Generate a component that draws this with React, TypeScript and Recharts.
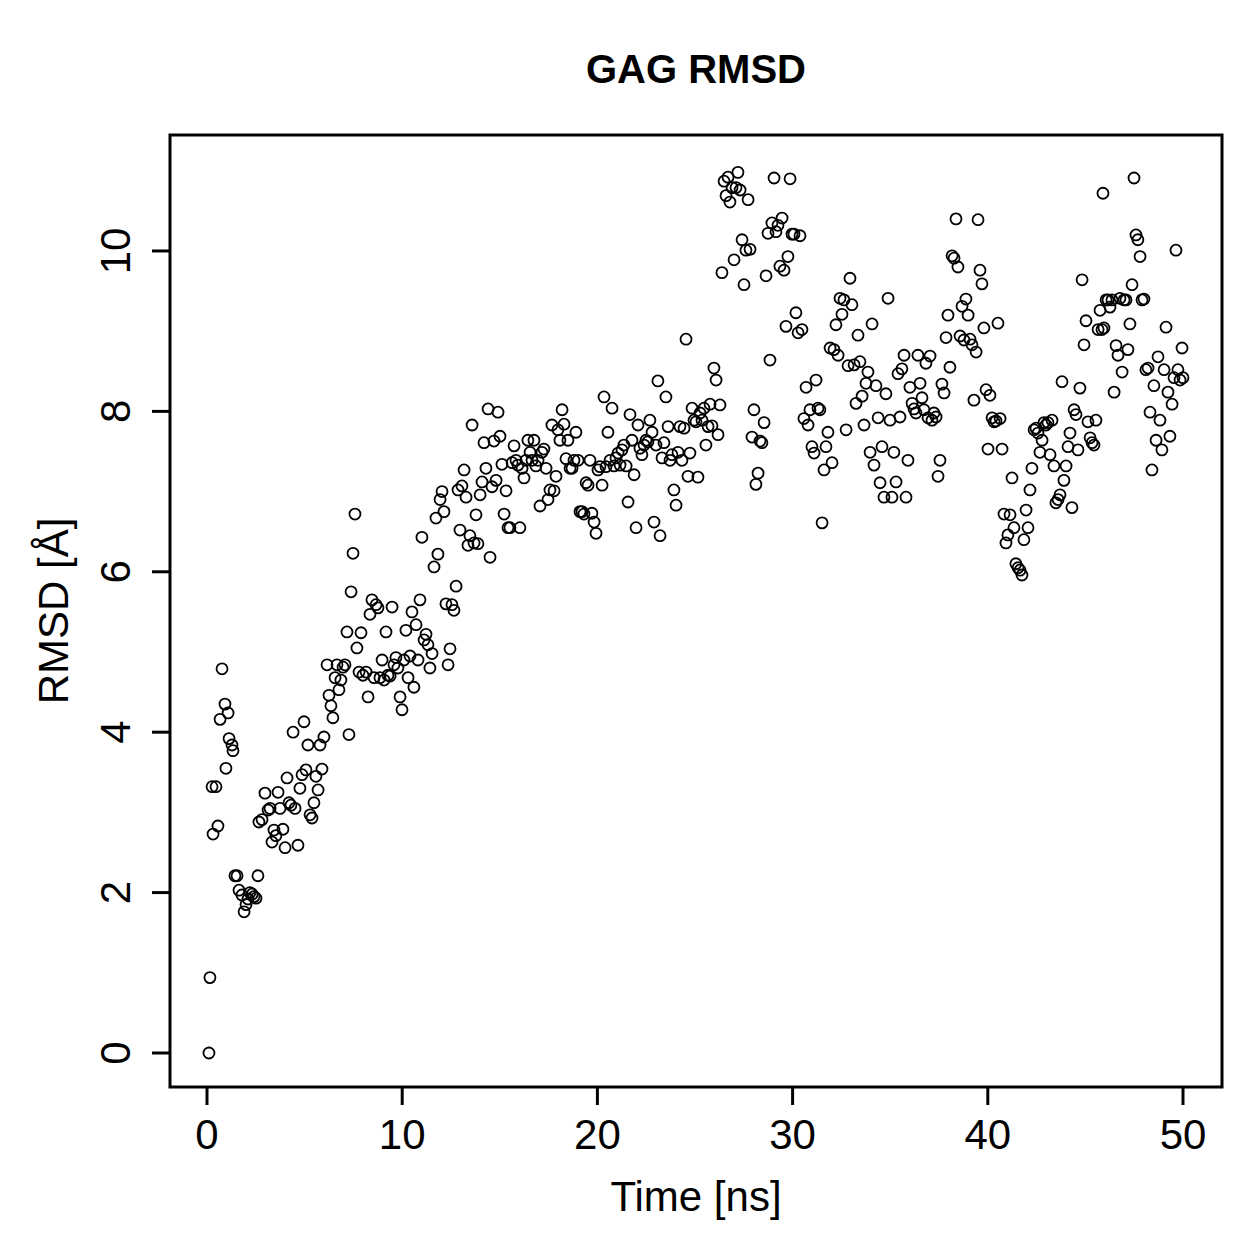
import { ScatterChart, Scatter, XAxis, YAxis, ReferenceArea } from "recharts";

// simulation time (ns) and RMSD (Å) of each frame
const time = [
  0.1, 0.15, 0.26, 0.31, 0.46, 0.56, 0.67, 0.77, 0.92, 0.97,
  1.08, 1.13, 1.28, 1.33, 1.43, 1.54, 1.64, 1.79, 1.9, 2.0,
  2.1, 2.2, 2.31, 2.41, 2.51, 2.61, 2.66, 2.82, 2.97, 3.13,
  3.23, 3.33, 3.43, 3.53, 3.64, 3.74, 3.89, 4.0, 4.1, 4.2,
  4.3, 4.41, 4.51, 4.66, 4.76, 4.87, 4.97, 5.07, 5.17, 5.28,
  5.38, 5.48, 5.58, 5.69, 5.79, 5.89, 5.99, 6.15, 6.25, 6.35,
  6.45, 6.56, 6.66, 6.76, 6.86, 6.97, 7.07, 7.17, 7.27, 7.38,
  7.48, 7.58, 7.68, 7.79, 7.89, 7.99, 8.15, 8.25, 8.35, 8.45,
  8.56, 8.66, 8.76, 8.86, 8.97, 9.07, 9.17, 9.27, 9.38, 9.48,
  9.58, 9.68, 9.78, 9.89, 9.99, 10.09, 10.19, 10.3, 10.4, 10.5,
  10.6, 10.71, 10.81, 10.91, 11.01, 11.12, 11.22, 11.32, 11.42, 11.53,
  11.63, 11.73, 11.83, 11.94, 12.04, 12.14, 12.24, 12.35, 12.45, 12.55,
  12.65, 12.76, 12.86, 12.96, 13.06, 13.17, 13.27, 13.37, 13.47, 13.58,
  13.68, 13.78, 13.88, 13.99, 14.09, 14.19, 14.29, 14.4, 14.5, 14.6,
  14.7, 14.81, 14.91, 15.01, 15.11, 15.22, 15.32, 15.42, 15.52, 15.63,
  15.73, 15.83, 15.93, 16.03, 16.14, 16.24, 16.34, 16.44, 16.55, 16.65,
  16.75, 16.85, 16.96, 17.06, 17.16, 17.26, 17.37, 17.47, 17.57, 17.67,
  17.78, 17.88, 17.98, 18.08, 18.19, 18.29, 18.39, 18.49, 18.6, 18.7,
  18.8, 18.9, 19.01, 19.11, 19.21, 19.31, 19.42, 19.52, 19.62, 19.72,
  19.83, 19.93, 20.03, 20.13, 20.24, 20.34, 20.44, 20.54, 20.65, 20.75,
  20.85, 20.95, 21.06, 21.16, 21.26, 21.36, 21.47, 21.57, 21.67, 21.77,
  21.88, 21.98, 22.08, 22.18, 22.28, 22.39, 22.49, 22.59, 22.69, 22.8,
  22.9, 23.0, 23.1, 23.21, 23.31, 23.41, 23.51, 23.62, 23.72, 23.82,
  23.92, 24.03, 24.13, 24.23, 24.33, 24.44, 24.54, 24.64, 24.74, 24.85,
  24.95, 25.05, 25.15, 25.26, 25.36, 25.46, 25.56, 25.67, 25.77, 25.87,
  25.97, 26.08, 26.18, 26.28, 26.38, 26.49, 26.59, 26.69, 26.79, 26.9,
  27.0, 27.1, 27.2, 27.31, 27.41, 27.51, 27.61, 27.72, 27.82, 27.92,
  28.02, 28.12, 28.23, 28.33, 28.43, 28.54, 28.64, 28.74, 28.84, 28.94,
  29.05, 29.15, 29.25, 29.35, 29.46, 29.56, 29.66, 29.76, 29.87, 29.97,
  30.07, 30.17, 30.28, 30.38, 30.48, 30.58, 30.69, 30.79, 30.89, 30.99,
  31.1, 31.2, 31.3, 31.4, 31.51, 31.61, 31.71, 31.81, 31.92, 32.02,
  32.12, 32.22, 32.33, 32.43, 32.53, 32.63, 32.74, 32.84, 32.94, 33.04,
  33.15, 33.25, 33.35, 33.45, 33.56, 33.66, 33.76, 33.86, 33.97, 34.07,
  34.17, 34.27, 34.38, 34.48, 34.58, 34.68, 34.78, 34.89, 34.99, 35.09,
  35.19, 35.3, 35.4, 35.5, 35.6, 35.71, 35.81, 35.91, 36.01, 36.12,
  36.22, 36.32, 36.42, 36.53, 36.63, 36.73, 36.83, 36.94, 37.04, 37.14,
  37.24, 37.35, 37.45, 37.55, 37.65, 37.76, 37.86, 37.96, 38.06, 38.17,
  38.27, 38.37, 38.47, 38.58, 38.68, 38.78, 38.88, 38.99, 39.09, 39.19,
  39.29, 39.4, 39.5, 39.6, 39.7, 39.8, 39.91, 40.01, 40.11, 40.22,
  40.32, 40.42, 40.52, 40.63, 40.73, 40.83, 40.93, 41.03, 41.14, 41.24,
  41.34, 41.44, 41.55, 41.65, 41.75, 41.85, 41.96, 42.06, 42.16, 42.26,
  42.37, 42.47, 42.57, 42.67, 42.78, 42.88, 42.98, 43.08, 43.19, 43.29,
  43.39, 43.49, 43.6, 43.7, 43.8, 43.9, 44.01, 44.11, 44.21, 44.31,
  44.42, 44.52, 44.62, 44.72, 44.83, 44.93, 45.03, 45.13, 45.24, 45.34,
  45.44, 45.54, 45.65, 45.75, 45.85, 45.95, 46.06, 46.16, 46.26, 46.36,
  46.47, 46.57, 46.67, 46.77, 46.88, 46.98, 47.08, 47.18, 47.28, 47.39,
  47.49, 47.59, 47.69, 47.8, 47.9, 48.0, 48.1, 48.21, 48.31, 48.41,
  48.51, 48.62, 48.72, 48.82, 48.92, 49.03, 49.13, 49.23, 49.33, 49.44,
  49.54, 49.64, 49.74, 49.85, 49.95, 50.0, 45.9,
];

const rmsd = [
  0.0, 0.94, 3.32, 2.73, 3.32, 2.83, 4.16, 4.79, 4.35, 3.55,
  4.24, 3.92, 3.84, 3.77, 2.21, 2.21, 2.03, 1.97, 1.76, 1.85,
  1.92, 2.0, 1.98, 1.95, 1.93, 2.21, 2.88, 2.91, 3.24, 3.03,
  3.05, 2.63, 2.78, 2.71, 3.25, 3.05, 2.79, 2.56, 3.43, 3.12,
  3.09, 4.0, 3.05, 2.59, 3.3, 3.47, 4.13, 3.53, 3.84, 2.97,
  2.93, 3.12, 3.45, 3.28, 3.84, 3.54, 3.94, 4.84, 4.46, 4.33,
  4.18, 4.68, 4.84, 4.53, 4.65, 4.81, 4.84, 5.25, 3.97, 5.75,
  6.23, 6.72, 5.05, 4.75, 5.24, 4.71, 4.75, 4.44, 5.47, 5.65,
  4.68, 5.59, 5.55, 4.68, 4.9, 4.65, 5.25, 4.71, 4.7, 5.56,
  4.84, 4.93, 4.8, 4.44, 4.28, 4.9, 5.27, 4.68, 4.95, 5.5,
  4.56, 5.34, 4.9, 5.65, 6.43, 5.15, 5.22, 5.09, 4.8, 4.98,
  6.06, 6.67, 6.22, 6.9, 7.0, 6.75, 5.6, 4.84, 5.04, 5.59,
  5.52, 5.82, 7.02, 6.52, 7.07, 7.27, 6.93, 6.33, 6.45, 7.83,
  6.36, 6.71, 6.35, 6.96, 7.12, 7.61, 7.29, 8.03, 6.18, 7.06,
  7.63, 7.14, 7.99, 7.69, 7.34, 6.72, 7.01, 6.55, 6.55, 7.36,
  7.57, 7.39, 7.33, 6.55, 7.29, 7.17, 7.39, 7.64, 7.49, 7.39,
  7.64, 7.32, 7.39, 6.82, 7.49, 7.53, 7.29, 6.9, 7.02, 7.83,
  7.01, 7.19, 7.77, 7.64, 8.02, 7.84, 7.41, 7.64, 7.29, 7.29,
  7.39, 7.74, 7.39, 6.75, 6.75, 6.72, 7.11, 7.08, 7.39, 6.73,
  6.62, 6.48, 7.27, 7.31, 7.08, 8.18, 7.31, 7.74, 7.39, 8.04,
  7.32, 7.42, 7.48, 7.33, 7.52, 7.58, 7.32, 6.87, 7.96, 7.64,
  7.21, 6.55, 7.83, 7.54, 7.46, 7.58, 7.64, 7.62, 7.89, 7.74,
  6.62, 7.58, 8.38, 6.45, 7.42, 7.61, 8.18, 7.81, 7.39, 7.46,
  7.02, 6.83, 7.49, 7.81, 7.39, 7.79, 8.9, 7.19, 7.48, 8.04,
  7.89, 7.87, 7.18, 7.98, 7.89, 8.04, 7.58, 7.81, 8.09, 7.82,
  8.54, 8.39, 7.71, 8.08, 9.73, 10.87, 10.69, 10.92, 10.61, 10.79,
  9.89, 10.79, 10.98, 10.76, 10.14, 9.58, 10.01, 10.64, 10.02, 7.68,
  8.02, 7.09, 7.23, 7.63, 7.61, 7.86, 9.69, 10.22, 8.64, 10.35,
  10.91, 10.24, 10.32, 9.81, 10.41, 9.76, 9.06, 9.93, 10.9, 10.21,
  10.21, 9.23, 8.98, 10.19, 9.02, 7.91, 8.3, 7.83, 8.02, 7.56,
  7.48, 8.39, 8.04, 8.02, 6.61, 7.27, 7.56, 7.74, 8.79, 7.36,
  8.77, 9.08, 8.7, 9.41, 9.21, 9.39, 7.77, 8.57, 9.66, 9.33,
  8.58, 8.1, 8.95, 8.62, 8.19, 7.83, 8.35, 8.49, 7.49, 9.09,
  7.33, 8.32, 7.92, 7.11, 7.56, 6.93, 8.22, 9.41, 7.89, 6.93,
  7.49, 7.12, 8.47, 7.93, 8.53, 8.7, 6.93, 7.39, 8.3, 8.1,
  8.03, 7.98, 8.7, 8.35, 8.17, 8.02, 8.6, 7.92, 8.69, 7.89,
  7.98, 7.93, 7.19, 7.39, 8.34, 8.23, 8.92, 9.2, 8.55, 9.94,
  9.91, 10.4, 9.8, 8.94, 9.31, 8.89, 9.4, 9.2, 8.9, 8.83,
  8.14, 8.74, 10.39, 9.76, 9.59, 9.04, 8.27, 7.53, 8.2, 7.92,
  7.87, 7.88, 9.1, 7.91, 7.53, 6.72, 6.36, 6.46, 6.71, 7.17,
  6.55, 6.1, 6.05, 6.02, 5.96, 6.4, 6.77, 6.55, 7.02, 7.29,
  7.77, 7.79, 7.73, 7.49, 7.64, 7.86, 7.83, 7.86, 7.46, 7.89,
  7.32, 6.86, 6.9, 6.96, 8.37, 7.14, 7.32, 7.56, 7.73, 6.8,
  8.02, 7.96, 7.52, 8.29, 9.64, 8.83, 9.13, 7.87, 7.67, 7.61,
  7.58, 7.89, 9.02, 9.26, 9.02, 9.04, 9.39, 9.39, 9.3, 9.39,
  8.24, 8.82, 8.7, 9.41, 8.49, 9.39, 9.39, 8.77, 9.09, 9.58,
  10.91, 10.2, 10.14, 9.93, 9.39, 9.4, 8.52, 8.54, 7.99, 7.27,
  8.32, 7.64, 8.68, 7.89, 7.52, 8.52, 9.05, 8.24, 7.69, 8.09,
  8.42, 10.01, 8.52, 8.39, 8.79, 8.42, 10.72,
];

const xTicks = [0, 10, 20, 30, 40, 50];
const yTicks = [0, 2, 4, 6, 8, 10];

const points = time.map((t, i) => ({ t, rmsd: rmsd[i] }));

const W = 1259;
const H = 1259;
const FONT = "'Liberation Sans', Arial, Helvetica, sans-serif";

// axis ranges padded 4% past the data, like base R graphics
const X_DOMAIN: [number, number] = [-1.8955, 51.998];
const Y_DOMAIN: [number, number] = [-0.424, 11.446];

const XTick = ({ x, payload }: any) => (
  <text x={x} y={1149} textAnchor="middle" fontFamily={FONT} fontSize={42} fill="#000">
    {payload.value}
  </text>
);

const YTick = ({ y, payload }: any) => (
  <text
    x={130}
    y={y}
    transform={`rotate(-90 130 ${y})`}
    textAnchor="middle"
    fontFamily={FONT}
    fontSize={42}
    fill="#000"
  >
    {payload.value}
  </text>
);

const Ring = ({ cx, cy }: any) => (
  <circle cx={cx} cy={cy} r={5.5} fill="none" stroke="#000" strokeWidth={1.8} />
);

export default function App() {
  return (
    <div style={{ position: "absolute", left: 0, top: 0, width: W, height: H, background: "#fff" }}>
      <ScatterChart width={W} height={H} margin={{ top: 135, right: 37, bottom: 0, left: 0 }}>
        <XAxis
          type="number"
          dataKey="t"
          domain={X_DOMAIN}
          ticks={xTicks}
          interval={0}
          allowDataOverflow
          height={172}
          tickSize={18}
          axisLine={false}
          tickLine={{ stroke: "#000", strokeWidth: 3 }}
          tick={<XTick />}
        />
        <YAxis
          type="number"
          dataKey="rmsd"
          domain={Y_DOMAIN}
          ticks={yTicks}
          interval={0}
          allowDataOverflow
          width={170}
          tickSize={18}
          axisLine={false}
          tickLine={{ stroke: "#000", strokeWidth: 3 }}
          tick={<YTick />}
        />
        <Scatter data={points} shape={Ring} isAnimationActive={false} />
        <ReferenceArea
          x1={X_DOMAIN[0]}
          x2={X_DOMAIN[1]}
          y1={Y_DOMAIN[0]}
          y2={Y_DOMAIN[1]}
          fill="none"
          stroke="#000"
          strokeWidth={3}
        />
      </ScatterChart>
      <svg
        width={W}
        height={H}
        style={{ position: "absolute", left: 0, top: 0, pointerEvents: "none" }}
        fontFamily={FONT}
        fill="#000"
      >
        <text x={696} y={83} textAnchor="middle" fontSize={40} fontWeight="bold">
          GAG RMSD
        </text>
        <text x={696} y={1211} textAnchor="middle" fontSize={42}>
          Time [ns]
        </text>
        <text x={68} y={611} textAnchor="middle" fontSize={42} transform="rotate(-90 68 611)">
          RMSD [Å]
        </text>
      </svg>
    </div>
  );
}
